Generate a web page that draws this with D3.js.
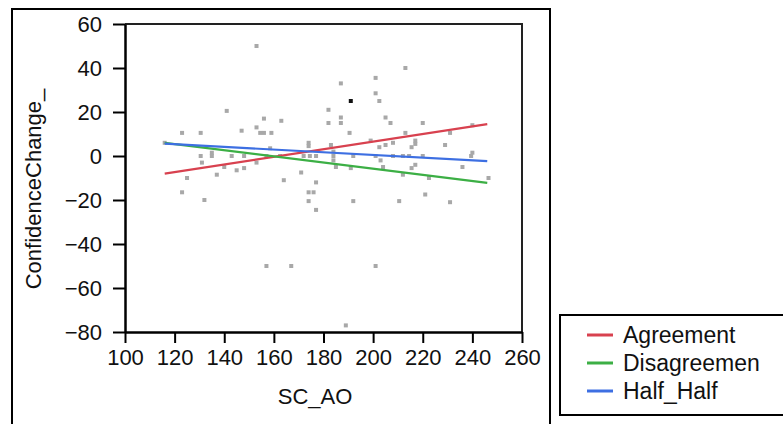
<!DOCTYPE html>
<html>
<head>
<meta charset="utf-8">
<script src="https://cdn.jsdelivr.net/npm/d3@7"></script>
<style>
  body { margin: 0; background: #fff; }
  svg { display: block; font-family: Arial, "Liberation Sans", sans-serif; }
</style>
</head>
<body>
<div id="grafico"></div>
<script>
// DATOS: SC_AO (x) vs ConfidenceChange_ (y)
var scAO = [153, 141, 156, 163, 182, 182, 123, 130.5, 147, 153, 154.5, 156, 159, 116, 174, 174, 158.5, 183,
    130.5, 135, 135, 143, 148, 157, 162.5, 172, 174.5, 177, 131, 140, 145, 148, 153, 137, 171, 125, 164,
    123, 132, 177, 174, 176, 174, 177, 157, 167,
    213, 201, 187, 201, 202.5, 187, 205, 187, 207, 220, 190.5, 213, 231, 240, 199, 217, 217, 215.5, 202.5,
    205, 208, 229, 184, 184, 201, 208, 212, 214.5, 220, 192, 239.5, 240, 184, 203, 185, 191, 204, 217,
    215.5, 236, 212, 222.5, 246.5, 221, 192, 210.5, 231, 201, 189];
var confChange = [50, 20.5, 17, 16, 21, 15, 10.5, 10.5, 11.5, 13, 10.5, 10.5, 10.5, 6, 6, 4.5, 3.5, 5,
    0, 1.5, 0, 0, 0, 0, 0, 0, 0, 0, -3, -5, -6.5, -5.5, -3, -8.5, -7.5, -10, -11,
    -16.5, -20, -12, -16.5, -16.5, -20.5, -24.5, -50, -50,
    40, 35.5, 33, 28.5, 25, 17.5, 17.5, 15, 15, 15, 10.5, 10.5, 10.5, 14, 7, 7, 5.5, 4, 4,
    5, 6, 5, 2, 0, 0, 0, 0, 0, 0, 0, 0, 1.5, -2, -2, -5, -5.5, -5, -4,
    -5.5, -5, -8.5, -10, -10, -17.5, -20.5, -20.5, -21, -50, -77];
// punto resaltado (negro)
var highlightX = [191];
var highlightY = [25];

// lineas de ajuste por grupo
var grupos = ['Agreement', 'Disagreemen', 'Half_Half'];
var coloresGrupo = ['#d8414f', '#3caf45', '#3d6fe2'];
var ajusteX = [116, 246];
var ajusteAgreement = [-8, 14.5];
var ajusteDisagreement = [6, -12.2];
var ajusteHalfHalf = [5.6, -2.3];

var xTicks = [100, 120, 140, 160, 180, 200, 220, 240, 260];
var yTicks = [-80, -60, -40, -20, 0, 20, 40, 60];

var ancho = 783, alto = 424;
var svg = d3.select('#grafico').append('svg').attr('width', ancho).attr('height', alto);

// marco exterior
svg.append('rect').attr('x', 12).attr('y', 9).attr('width', 538).attr('height', 430)
    .attr('fill', 'none').attr('stroke', '#000').attr('stroke-width', 2);

var izq = 125, der = 522, arriba = 24, abajo = 332;
var scale_x = d3.scaleLinear().domain([100, 260]).range([izq, der]);
var scale_y = d3.scaleLinear().domain([-80, 60]).range([abajo, arriba]);

// borde superior y derecho del area del grafico
svg.append('path')
    .attr('d', 'M' + izq + ',' + arriba + 'H' + der + 'V' + abajo)
    .attr('fill', 'none').attr('stroke', '#222').attr('stroke-width', 2);

// ejes
var ejeX = svg.append('g').attr('transform', 'translate(0,' + abajo + ')')
    .call(d3.axisBottom(scale_x).tickValues(xTicks).tickSize(11).tickPadding(6).tickSizeOuter(0));
var ejeY = svg.append('g').attr('transform', 'translate(' + izq + ',0)')
    .call(d3.axisLeft(scale_y).tickValues(yTicks).tickSize(12).tickPadding(11).tickSizeOuter(0));
[ejeX, ejeY].forEach(function (e) {
    e.select('.domain').attr('stroke', '#000').attr('stroke-width', 2.5);
    e.selectAll('.tick line').attr('stroke', '#000').attr('stroke-width', 2);
    e.selectAll('.tick text').attr('fill', '#111').attr('font-size', 22)
        .attr('font-family', 'Arial, "Liberation Sans", sans-serif');
});
ejeY.selectAll('.tick text').attr('dy', '0.34em');
ejeX.selectAll('.tick text').attr('dy', '0.71em');

// puntos
var datos = scAO.map(function (d, i) { return [d, confChange[i]]; });
svg.append('g').selectAll('rect').data(datos).enter().append('rect')
    .attr('x', function (d) { return scale_x(d[0]) - 2; })
    .attr('y', function (d) { return scale_y(d[1]) - 2; })
    .attr('width', 4).attr('height', 4)
    .attr('fill', '#a8a8a8');
svg.append('g').selectAll('rect').data(highlightX).enter().append('rect')
    .attr('x', function (d) { return scale_x(d) - 2; })
    .attr('y', function (d, i) { return scale_y(highlightY[i]) - 2; })
    .attr('width', 4).attr('height', 4)
    .attr('fill', '#111');

// lineas de ajuste
var ajustes = [ajusteAgreement, ajusteDisagreement, ajusteHalfHalf];
var linea = d3.line().x(function (d) { return scale_x(d[0]); }).y(function (d) { return scale_y(d[1]); });
ajustes.forEach(function (a, k) {
    svg.append('path')
        .attr('d', linea(ajusteX.map(function (x, i) { return [x, a[i]]; })))
        .attr('fill', 'none').attr('stroke', coloresGrupo[k]).attr('stroke-width', 2.2);
});

// titulos de ejes
svg.append('text').attr('x', 315).attr('y', 404).attr('text-anchor', 'middle')
    .attr('font-size', 22).attr('fill', '#111').text('SC_AO');
svg.append('text').attr('transform', 'translate(41,189) rotate(-90)').attr('text-anchor', 'middle')
    .attr('font-size', 22).attr('fill', '#111').text('ConfidenceChange_');

// leyenda
svg.append('rect').attr('x', 560).attr('y', 315).attr('width', 240).attr('height', 100)
    .attr('fill', '#fff').attr('stroke', '#000').attr('stroke-width', 2);
var leyenda = svg.append('g').selectAll('g').data(grupos).enter().append('g')
    .attr('transform', function (d, i) { return 'translate(587,' + (335 + i * 28) + ')'; });
leyenda.append('line').attr('x1', 0).attr('x2', 26)
    .attr('stroke', function (d, i) { return coloresGrupo[i]; }).attr('stroke-width', 3);
leyenda.append('text').attr('x', 36).attr('dy', '0.35em').attr('font-size', 23).attr('fill', '#111')
    .text(function (d) { return d; });
</script>
</body>
</html>
